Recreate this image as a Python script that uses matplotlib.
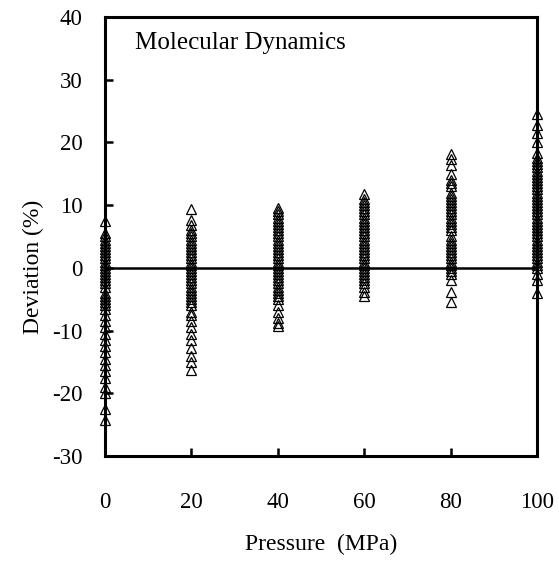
import numpy as np
import matplotlib.pyplot as plt

plt.rcParams['font.family'] = ['Liberation Serif', 'DejaVu Serif']
plt.rcParams['axes.unicode_minus'] = False

pressure = [0, 20, 40, 60, 80, 100]

dev_0 = [7.5, 5.5, 5, 4.5, 4, 3.5, 3, 2.5, 2, 1.5, 1, 0.5, 0, -0.5, -1, -1.5, -2, -2.5,
         -3, -4, -4.5, -5, -5.5, -6, -6.5, -7.5, -8.5, -9.5, -10.5, -11.5, -12.5, -13.5,
         -14.5, -15.5, -16.5, -17.5, -19, -20, -22.5, -24.2]
dev_20 = [9.3, 7.6, 6.8, 6, 5.5, 5, 4.5, 4, 3.5, 3, 2.5, 2, 1.5, 1, 0.5, 0, -0.5, -1,
          -1.5, -2, -2.5, -3, -3.5, -4, -4.5, -5, -5.5, -6, -7, -7.5, -8.5, -9.5, -10.5,
          -11.5, -12.8, -14, -15, -16.3]
dev_40 = [9.6, 9, 8.5, 8, 7.5, 7, 6.5, 6, 5.5, 5, 4.5, 4, 3.5, 3, 2.5, 2, 1.5, 1, 0.5,
          0, -0.5, -1, -1.5, -2, -2.5, -3, -3.5, -4, -4.5, -5, -6, -7, -8, -8.8, -9.3]
dev_60 = [11.8, 11, 10.5, 10, 9.5, 9, 8.5, 8, 7.5, 7, 6.5, 6, 5.5, 5, 4.5, 4, 3.5, 3,
          2.5, 2, 1.5, 1, 0.5, 0, -0.5, -1, -1.5, -2, -2.5, -3, -3.8, -4.5]
dev_80 = [18.2, 17.4, 16.4, 15, 14, 13.5, 13, 12, 11.5, 11, 10.5, 10, 9.5, 9, 8.5, 8,
          7.5, 7, 6.5, 6, 5, 4.5, 4, 3.5, 3, 2.5, 2, 1.5, 1, 0.5, 0, -0.5, -1, -1.9,
          -3.8, -5.4]
dev_100 = [24.5, 22.8, 21.5, 20.1, 18.3, 17.5, 17, 16.5, 16, 15.5, 15, 14.5, 14, 13.5,
           13, 12.5, 12, 11.5, 11, 10.5, 10, 9.5, 9, 8.5, 8, 7.5, 7, 6.5, 6, 5.5, 5,
           4.5, 4, 3.5, 3, 2.5, 2, 1.5, 1, 0.5, 0, -1, -1.9, -4]

groups = [dev_0, dev_20, dev_40, dev_60, dev_80, dev_100]

fig = plt.figure(figsize=(5.59, 5.64), dpi=100)
ax = fig.add_axes([0.1878, 0.1915, 0.7728, 0.7786])

for p, dev in zip(pressure, groups):
    ax.plot([p] * len(dev), dev, linestyle='none', marker='^', markersize=7.5,
            markerfacecolor='none', markeredgecolor='black', markeredgewidth=0.9,
            clip_on=False, zorder=3)

ax.plot([0, 100], [0, 0], color='black', linewidth=1.8, zorder=2)

ax.set_xlim(0, 100)
ax.set_ylim(-30, 40)
ax.set_xticks(pressure)
ax.set_yticks(np.arange(-30, 41, 10))
ax.tick_params(direction='in', length=6, width=1.8, labelsize=16.5,
               top=False, right=False)
ax.tick_params(axis='x', pad=26)
ax.tick_params(axis='y', pad=16)
for s in ax.spines.values():
    s.set_linewidth(2.2)

ax.set_xlabel('Pressure  (MPa)', fontsize=17, labelpad=15)
ax.set_ylabel('Deviation (%)', fontsize=17)
ax.yaxis.set_label_coords(-0.14, 0.43)
ax.text(0.07, 0.94, 'Molecular Dynamics', transform=ax.transAxes, fontsize=18,
        ha='left', va='center')

plt.savefig('out.png', dpi=100)
